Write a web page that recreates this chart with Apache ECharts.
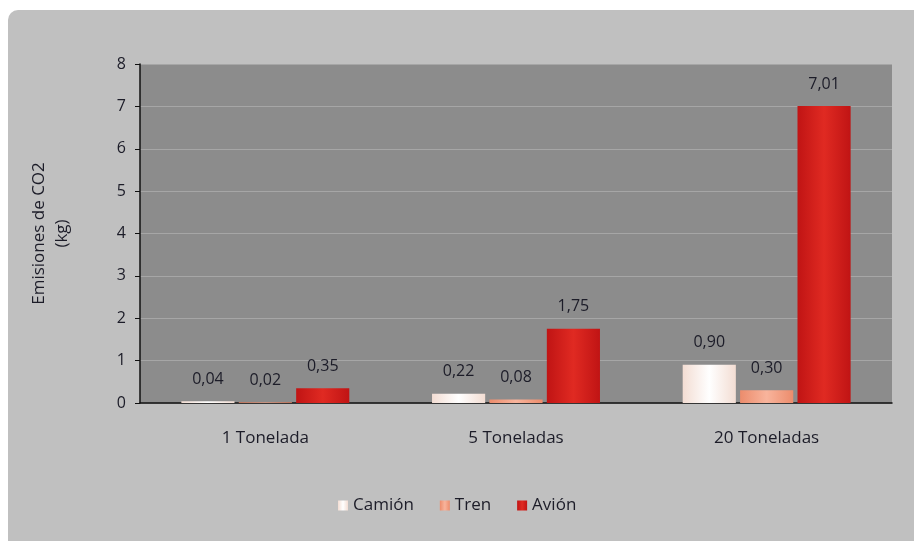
<!DOCTYPE html>
<html lang="es">
<head>
<meta charset="UTF-8">
<title>Emisiones de CO2</title>
<script src="https://cdn.jsdelivr.net/npm/echarts@6/dist/echarts.min.js"></script>
<style>
  body { margin: 0; background: #fff; }
  #frame { position: absolute; left: 8px; top: 10px; width: 920px; height: 545px; background: #c0c0c0; border-radius: 10px; }
  #chart { position: absolute; left: 0; top: 0; width: 914px; height: 541px; }
</style>
</head>
<body>
<div id="frame"></div>
<div id="chart"></div>
<script>
  // datos
  var categories = ['1 Tonelada', '5 Toneladas', '20 Toneladas'];
  var camion = [0.04, 0.22, 0.90];
  var tren = [0.02, 0.08, 0.30];
  var avion = [0.35, 1.75, 7.01];

  function grad(edge, mid) {
    return new echarts.graphic.LinearGradient(0, 0, 1, 0, [
      { offset: 0, color: edge },
      { offset: 0.5, color: mid },
      { offset: 1, color: edge }
    ]);
  }

  var lbl = {
    show: true,
    position: 'top',
    distance: 14,
    color: '#1c1c28',
    fontSize: 16,
    formatter: function (p) { return p.value.toFixed(2).replace('.', ','); }
  };

  var chart = echarts.init(document.getElementById('chart'));
  chart.setOption({
    textStyle: { fontFamily: 'Open Sans' },
    grid: { left: 140, right: 22, top: 64, bottom: 138, show: true, backgroundColor: '#8c8c8c', borderWidth: 0 },
    legend: {
      bottom: 22,
      left: 333,
      itemWidth: 10,
      itemHeight: 10,
      itemGap: 26,
      itemStyle: { borderWidth: 0 },
      icon: 'rect',
      textStyle: { fontSize: 17, color: '#1c1c28' },
      data: ['Camión', 'Tren', 'Avión']
    },
    xAxis: {
      type: 'category',
      data: categories,
      axisLine: { lineStyle: { color: '#111', width: 1.5 } },
      axisTick: { length: 6, lineStyle: { color: '#111' } },
      axisLabel: { color: '#1c1c28', fontSize: 17, margin: 27 }
    },
    yAxis: {
      type: 'value',
      min: 0, max: 8, interval: 1,
      name: 'Emisiones de CO2\n(kg)',
      nameLocation: 'middle',
      nameRotate: 90,
      nameGap: 66,
      nameTextStyle: { color: '#1c1c28', fontSize: 17, lineHeight: 23 },
      axisLine: { show: true, lineStyle: { color: '#111', width: 1.5 } },
      axisTick: { show: true, length: 5, lineStyle: { color: '#111' } },
      axisLabel: { color: '#1c1c28', fontSize: 16, margin: 14 },
      splitLine: { lineStyle: { color: '#a6a6a6' } }
    },
    series: [
      { name: 'Camión', type: 'bar', data: camion, barGap: '8%', barCategoryGap: '33%',
        itemStyle: { color: grad('#f3ddd3', '#ffffff') }, label: lbl },
      { name: 'Tren', type: 'bar', data: tren,
        itemStyle: { color: grad('#ec8c6c', '#f8b49c') }, label: lbl },
      { name: 'Avión', type: 'bar', data: avion,
        itemStyle: { color: grad('#c01414', '#e02a22') }, label: lbl }
    ]
  });
</script>
</body>
</html>
